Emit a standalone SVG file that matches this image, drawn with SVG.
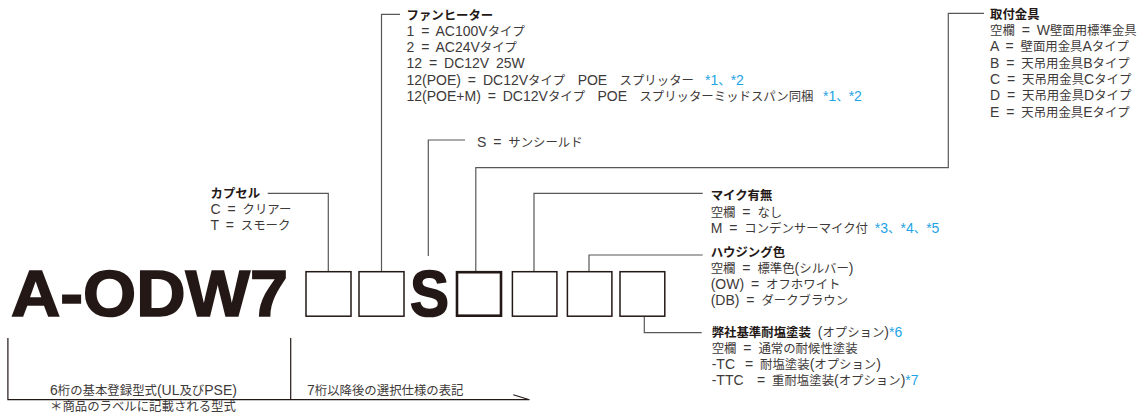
<svg xmlns="http://www.w3.org/2000/svg" width="1143" height="412" viewBox="0 0 1143 412">
<style>
text{font-family:"Liberation Sans","Noto Sans CJK JP",sans-serif;font-size:12.4px;fill:#3e3a39;word-spacing:3px}
.L{font-size:14px}
.h{font-weight:700;fill:#231815}
.b{fill:#1ea3e6}
.big{font-family:"Liberation Sans","DejaVu Sans",sans-serif;font-weight:700;font-size:64px;fill:#231815;stroke:#231815;stroke-width:1.6px;word-spacing:0}
.box{fill:#fff;stroke:#231815;stroke-width:1.5}
.thick{stroke-width:2.6}
.c{fill:none;stroke:#595757;stroke-width:1.2}
.k{fill:none;stroke:#231815;stroke-width:1.2}
</style>
<rect width="1143" height="412" fill="#fff"/>
<g id="connectors">
<path class="c" d="M267.7,193.3H328.3V271"/>
<path class="c" d="M400,14.3H381.5V271"/>
<path class="c" d="M465,140H428.3V256"/>
<path class="c" d="M984,13.3H948.3V167.7H475.8V271"/>
<path class="c" d="M702.7,193.3H534V271"/>
<path class="c" d="M702.7,255H589V271"/>
<path class="c" d="M644.3,317V332.7H701.7"/>
<path class="k" d="M7.9,338V399.7H529.4L513.3,394.7"/>
<path class="k" d="M290.7,338V399.7"/>
</g>
<g id="model">
<text class="big" x="11" y="316" textLength="277" lengthAdjust="spacingAndGlyphs">A-ODW7</text>
<text class="big" x="410" y="316" textLength="39" lengthAdjust="spacingAndGlyphs">S</text>
</g>
<g id="boxes">
<rect id="box1" class="box" x="306" y="271.7" width="45" height="44.5"/>
<rect id="box2" class="box" x="359" y="271.7" width="45" height="44.5"/>
<rect id="box3" class="box thick" x="457" y="272.2" width="44" height="43.5"/>
<rect id="box4" class="box" x="512.4" y="271.7" width="44.5" height="44.5"/>
<rect id="box5" class="box" x="567.4" y="271.7" width="44.5" height="44.5"/>
<rect id="box6" class="box" x="620" y="271.7" width="44.8" height="44.5"/>
</g>
<g id="fan">
<text class="h" x="406.5" y="19.5">ファンヒーター</text>
<text x="406.5" y="35.8"><tspan class="L">1 = AC100V</tspan>タイプ</text>
<text x="406.5" y="52.1"><tspan class="L">2 = AC24V</tspan>タイプ</text>
<text x="406.5" y="68.4"><tspan class="L">12 = DC12V 25W</tspan></text>
<text x="406.5" y="84.7"><tspan class="L">12(POE) = DC12V</tspan>タイプ　<tspan class="L">POE</tspan>　スプリッター<tspan class="b L" x="705">*1</tspan><tspan class="b">、</tspan><tspan class="b L">*2</tspan></text>
<text x="406.5" y="101"><tspan class="L">12(POE+M) = DC12V</tspan>タイプ　<tspan class="L">POE</tspan>　スプリッターミッドスパン同梱<tspan class="b L" x="823">*1</tspan><tspan class="b">、</tspan><tspan class="b L">*2</tspan></text>
</g>
<g id="mount">
<text class="h" x="990" y="18.8">取付金具</text>
<text x="990" y="35.1">空欄<tspan class="L"> = W</tspan>壁面用標準金具</text>
<text x="990" y="51.4"><tspan class="L">A = </tspan>壁面用金具<tspan class="L">A</tspan>タイプ</text>
<text x="990" y="67.7"><tspan class="L">B = </tspan>天吊用金具<tspan class="L">B</tspan>タイプ</text>
<text x="990" y="84"><tspan class="L">C = </tspan>天吊用金具<tspan class="L">C</tspan>タイプ</text>
<text x="990" y="100.3"><tspan class="L">D = </tspan>天吊用金具<tspan class="L">D</tspan>タイプ</text>
<text x="990" y="116.6"><tspan class="L">E = </tspan>天吊用金具<tspan class="L">E</tspan>タイプ</text>
</g>
<g id="capsule">
<text class="h" x="210.5" y="197.8">カプセル</text>
<text x="210.5" y="214"><tspan class="L">C = </tspan>クリアー</text>
<text x="210.5" y="229.8"><tspan class="L">T = </tspan>スモーク</text>
</g>
<g id="sunshield">
<text x="477" y="146.5"><tspan class="L">S = </tspan>サンシールド</text>
</g>
<g id="mic">
<text class="h" x="710.7" y="200">マイク有無</text>
<text x="710.7" y="216.5">空欄<tspan class="L"> = </tspan>なし</text>
<text x="710.7" y="233"><tspan class="L">M = </tspan>コンデンサーマイク付<tspan class="b L"> *3</tspan><tspan class="b">、</tspan><tspan class="b L">*4</tspan><tspan class="b">、</tspan><tspan class="b L">*5</tspan></text>
</g>
<g id="housing">
<text class="h" x="710.7" y="256.5">ハウジング色</text>
<text x="710.7" y="272.8">空欄<tspan class="L"> = </tspan>標準色<tspan class="L">(</tspan>シルバー<tspan class="L">)</tspan></text>
<text x="710.7" y="289.1"><tspan class="L">(OW) = </tspan>オフホワイト</text>
<text x="710.7" y="305.4"><tspan class="L">(DB) = </tspan>ダークブラウン</text>
</g>
<g id="coating">
<text x="711.7" y="336.5"><tspan class="h">弊社基準耐塩塗装</tspan><tspan class="L"> (</tspan>オプション<tspan class="L">)</tspan><tspan class="b L">*6</tspan></text>
<text x="711.7" y="352.8">空欄<tspan class="L"> = </tspan>通常の耐候性塗装</text>
<text x="711.7" y="369.1"><tspan class="L">-TC</tspan><tspan class="L" x="745">= </tspan>耐塩塗装<tspan class="L">(</tspan>オプション<tspan class="L">)</tspan></text>
<text x="711.7" y="385.4"><tspan class="L">-TTC</tspan><tspan class="L" x="757">= </tspan>重耐塩塗装<tspan class="L">(</tspan>オプション<tspan class="L">)</tspan><tspan class="b L">*7</tspan></text>
</g>
<g id="notes">
<text x="50" y="394.5"><tspan class="L">6</tspan>桁の基本登録型式<tspan class="L">(UL</tspan>及び<tspan class="L">PSE)</tspan></text>
<text x="307" y="394.5"><tspan class="L">7</tspan>桁以降後の選択仕様の表記</text>
<text x="50" y="411">＊商品のラベルに記載される型式</text>
</g>
</svg>
